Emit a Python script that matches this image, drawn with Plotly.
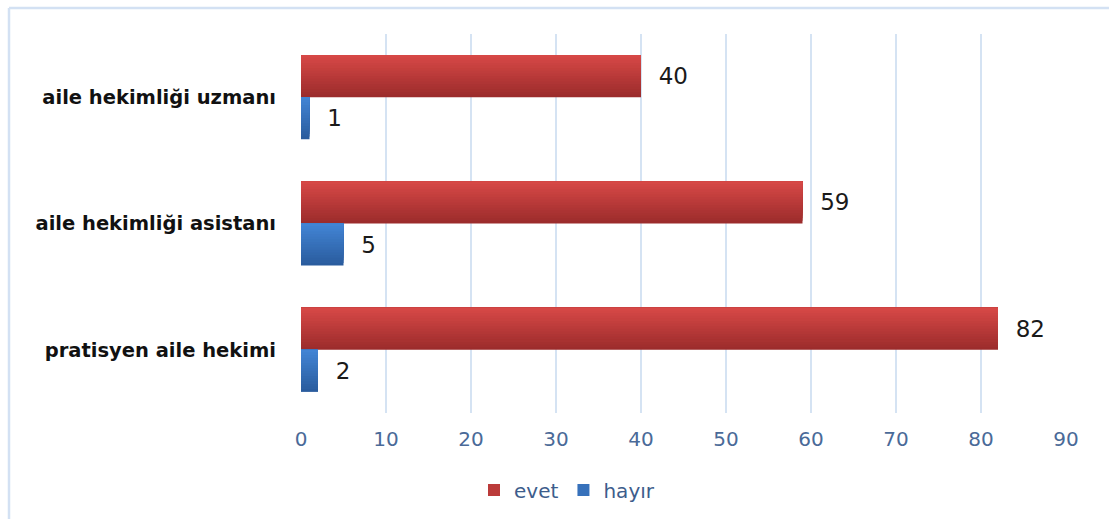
import plotly.graph_objects as go

# Survey responses by physician group
categories = ["pratisyen aile hekimi", "aile hekimliği asistanı", "aile hekimliği uzmanı"]
evet = [82, 59, 40]
hayir = [2, 5, 1]
x_ticks = [0, 10, 20, 30, 40, 50, 60, 70, 80, 90]

W, H = 1109, 519
ML, MR, MT, MB = 301, 43, 34, 106
PW, PH = W - ML - MR, H - MT - MB


def px_to_paper_x(px):
    return (px - ML) / PW


def px_to_paper_y(py):
    return (H - MB - py) / PH


def mix(c1, c2, t):
    return "rgb({},{},{})".format(*[round(a + (b - a) * t) for a, b in zip(c1, c2)])


BAR_W = 0.333      # thickness of one bar in category units
STRIPES = 16       # layered bands used to shade each bar from dark (bottom) to light (top)
pad = "\u00a0\u00a0"
label_font = dict(family="DejaVu Sans", size=23, color="#1a1a1a")

series = [
    # name, values, offset, top colour, bottom colour, legend rank
    ("evet", evet, 0.0, (214, 72, 70), (156, 44, 44), 1),
    ("hayır", hayir, -BAR_W, (66, 132, 212), (42, 92, 158), 2),
]

fig = go.Figure()
for name, vals, off, top, bottom, rank in series:
    sw = BAR_W / STRIPES
    for i in range(STRIPES):
        t = i / (STRIPES - 1)
        col = mix(bottom, top, t)
        # each layer runs from its own lower edge up to the bar top,
        # so it sits on the previous (darker) layer without seams
        fig.add_trace(go.Bar(
            name=name, y=categories, x=vals, orientation="h",
            offset=off + i * sw, width=BAR_W - i * sw,
            marker=dict(color=col, line=dict(width=0)),
            showlegend=(i == STRIPES // 2), legendgroup=name,
            legendrank=rank, hoverinfo="skip",
        ))
    # value labels at the bar ends
    fig.add_trace(go.Bar(
        name=name, y=categories, x=vals, orientation="h",
        offset=off, width=BAR_W,
        marker=dict(color="rgba(0,0,0,0)", line=dict(width=0)),
        text=[pad + str(v) for v in vals], textposition="outside",
        textfont=label_font, cliponaxis=False,
        showlegend=False, legendgroup=name,
    ))

border = "#d3e1f3"
fig.add_shape(type="line", xref="paper", yref="paper",
              x0=px_to_paper_x(9), x1=px_to_paper_x(9),
              y0=px_to_paper_y(530), y1=px_to_paper_y(8),
              line=dict(color=border, width=2.5))
fig.add_shape(type="line", xref="paper", yref="paper",
              x0=px_to_paper_x(9), x1=px_to_paper_x(1120),
              y0=px_to_paper_y(8), y1=px_to_paper_y(8),
              line=dict(color=border, width=2.5))

fig.update_layout(
    width=W, height=H,
    margin=dict(l=ML, r=MR, t=MT, b=MB, autoexpand=False),
    paper_bgcolor="white", plot_bgcolor="white",
    barmode="overlay",
    showlegend=True,
    legend=dict(orientation="h", xanchor="center", yanchor="middle",
                x=px_to_paper_x(567), y=px_to_paper_y(490),
                font=dict(family="DejaVu Sans", size=20, color="#3d5d8c"),
                itemwidth=30, bgcolor="rgba(0,0,0,0)"),
    xaxis=dict(range=[0, 90], tickvals=x_ticks, showgrid=True,
               gridcolor="#d5e3f3", gridwidth=2, zeroline=False,
               showline=False, ticks="",
               tickfont=dict(family="DejaVu Sans", size=20, color="#4a6a98"),
               ticklabelstandoff=12),
    yaxis=dict(categoryorder="array", categoryarray=categories,
               range=[-0.5, 2.5],
               showgrid=False, zeroline=False, showline=False, ticks="",
               tickfont=dict(family="DejaVu Sans", size=19.5, color="#111111",
                             weight="bold"),
               ticklabelstandoff=24),
)

fig.write_html("out.html")
